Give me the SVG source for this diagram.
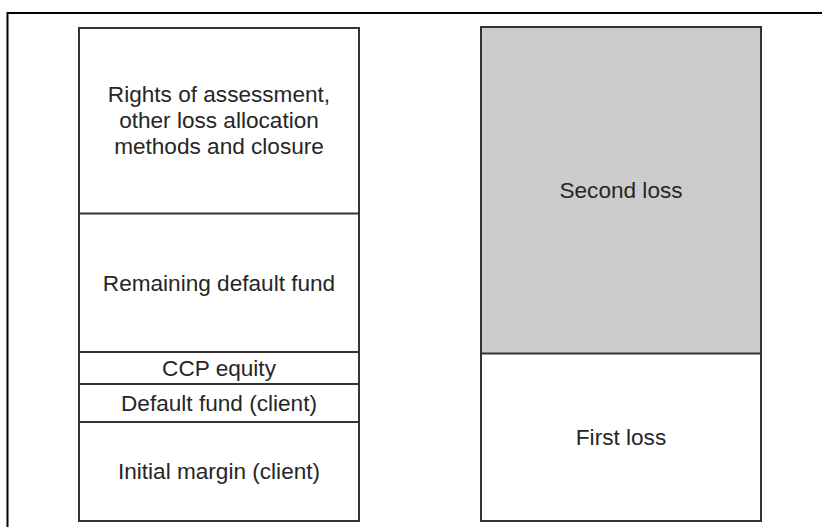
<svg xmlns="http://www.w3.org/2000/svg" width="822" height="527" viewBox="0 0 822 527">
<style>
.box{fill:#fff;stroke:#333;stroke-width:2}
.div{stroke:#333;stroke-width:2;fill:none}
text{font-family:"Liberation Sans",Arial,sans-serif;font-size:22.6px;fill:#262626;text-anchor:middle}
</style>
<rect width="822" height="527" fill="#fff"/>
<path d="M7.5,527 V13 H822" fill="none" stroke="#000" stroke-width="2"/>
<g id="left-stack">
<rect class="box" x="79" y="28" width="280" height="493"/>
<g id="rights"><text x="219" y="101.5">Rights of assessment,</text><text x="219" y="127.5">other loss allocation</text><text x="219" y="153.5">methods and closure</text></g>
<g id="remaining"><line class="div" x1="79" y1="213.5" x2="359" y2="213.5"/><text x="219" y="290.5">Remaining default fund</text></g>
<g id="ccp"><line class="div" x1="79" y1="352" x2="359" y2="352"/><text x="219" y="376">CCP equity</text></g>
<g id="dfclient"><line class="div" x1="79" y1="384" x2="359" y2="384"/><text x="219" y="411">Default fund (client)</text></g>
<g id="imclient"><line class="div" x1="79" y1="422" x2="359" y2="422"/><text x="219" y="479">Initial margin (client)</text></g>
</g>
<g id="right-stack">
<rect class="box" x="481" y="27" width="280" height="494"/>
<g id="second"><rect x="482" y="28" width="278" height="325" fill="#cccccc"/><text x="621" y="198">Second loss</text></g>
<g id="first"><line class="div" x1="481" y1="353.5" x2="761" y2="353.5"/><text x="621" y="445">First loss</text></g>
</g>
</svg>
